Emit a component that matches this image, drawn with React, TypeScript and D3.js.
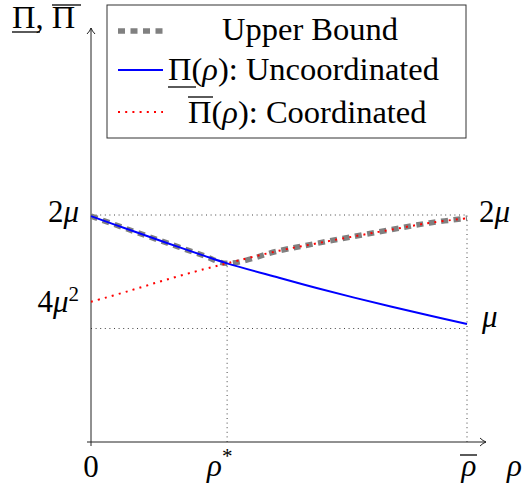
import React from 'react';
import * as d3 from 'd3';

// rho on [0, 1] where 1 = rho-bar; values in units of mu
const rhoGrid = [0, 0.1, 0.2, 0.3, 0.362, 0.5, 0.6, 0.7, 0.8, 0.9, 1.0];
const uncoordinated = [1.99, 1.872, 1.756, 1.642, 1.574, 1.447, 1.357, 1.272, 1.192, 1.115, 1.04];
const coordinated = [1.235, 1.33, 1.43, 1.522, 1.574, 1.685, 1.75, 1.812, 1.872, 1.93, 1.972];
const upperBound = [1.99, 1.872, 1.756, 1.642, 1.574, 1.685, 1.75, 1.812, 1.872, 1.93, 1.972];

const rhoStar = 0.362;
const rhoBar = 1;
const twoMu = 2;
const mu = 1;
const fourMuSq = 1.24;

const W = 525;
const H = 491;
const tf = { fontFamily: `'Liberation Serif', serif` };

const App = () => {
  const x = d3.scaleLinear().domain([0, 1]).range([91, 467]);
  const y = d3.scaleLinear().domain([0, 2]).range([442, 215]);

  const line = d3.line<number>()
    .x((_, i) => x(rhoGrid[i]))
    .y(d => y(d))
    .curve(d3.curveCatmullRom);

  const axisColor = '#222';
  const guide = { stroke: '#444', strokeWidth: 1, strokeDasharray: '1 3.6', fill: 'none' };
  const fs = 31;
  const lfs = 32.5;
  const deco = { stroke: '#000', strokeWidth: 1.3 };

  const xEnd = 486;
  const yTop = 28;

  return (
    <svg width={W} height={H} style={{ position: 'absolute', left: 0, top: 0, background: '#fff' }}>
      {/* guide lines */}
      <line x1={x(0)} x2={x(rhoBar)} y1={y(twoMu)} y2={y(twoMu)} {...guide} />
      <line x1={x(0)} x2={x(rhoBar)} y1={y(mu)} y2={y(mu)} {...guide} />
      <line x1={x(rhoStar)} x2={x(rhoStar)} y1={y(0)} y2={y(1.574)} {...guide} />
      <line x1={x(rhoBar)} x2={x(rhoBar)} y1={y(0)} y2={y(twoMu)} {...guide} />

      {/* axes */}
      <line x1={x(0) - 4} x2={xEnd} y1={y(0)} y2={y(0)} stroke={axisColor} strokeWidth={1} />
      <line x1={x(0)} x2={x(0)} y1={y(0) + 4} y2={yTop} stroke={axisColor} strokeWidth={1} />
      <path d={`M${xEnd - 6},${y(0) - 4} Q${xEnd - 3},${y(0) - 1} ${xEnd},${y(0)} Q${xEnd - 3},${y(0) + 1} ${xEnd - 6},${y(0) + 4}`}
        fill="none" stroke={axisColor} strokeWidth={1} />
      <path d={`M${x(0) - 4},${yTop + 6} Q${x(0) - 1},${yTop + 3} ${x(0)},${yTop} Q${x(0) + 1},${yTop + 3} ${x(0) + 4},${yTop + 6}`}
        fill="none" stroke={axisColor} strokeWidth={1} />

      {/* series */}
      <path d={line(upperBound) || ''} fill="none" stroke="#808080" strokeWidth={5.5} strokeDasharray="7 5.5" />
      <path d={line(uncoordinated) || ''} fill="none" stroke="#0000ff" strokeWidth={2} />
      <path d={line(coordinated) || ''} fill="none" stroke="#ff0000" strokeWidth={2} strokeDasharray="2 5.2" />

      {/* y tick labels */}
      <text x={79} y={222} textAnchor="end" fontSize={fs} style={tf}>2<tspan fontStyle="italic">μ</tspan></text>
      <text x={79} y={312} textAnchor="end" fontSize={fs} style={tf}>4<tspan fontStyle="italic">μ</tspan><tspan fontSize={21} dy={-11}>2</tspan></text>
      <text x={479} y={222} fontSize={fs} style={tf}>2<tspan fontStyle="italic">μ</tspan></text>
      <text x={482} y={327} fontSize={fs} fontStyle="italic" style={tf}>μ</text>

      {/* x tick labels */}
      <text x={x(0)} y={477} textAnchor="middle" fontSize={fs} style={tf}>0</text>
      <text x={207} y={476} fontSize={fs} style={tf}><tspan fontStyle="italic">ρ</tspan><tspan fontSize={21} dy={-13}>*</tspan></text>
      <text x={x(rhoBar) + 2} y={476} textAnchor="middle" fontSize={fs} fontStyle="italic" style={tf}>ρ</text>
      <line x1={460} x2={477} y1={455} y2={455} {...deco} />
      <text x={507} y={476} fontSize={fs} fontStyle="italic" style={tf}>ρ</text>

      {/* y axis label */}
      <text x={12} y={28} fontSize={lfs} style={tf}>Π, Π</text>
      <line x1={12} x2={40} y1={32} y2={32} {...deco} />
      <line x1={52} x2={81} y1={5} y2={5} {...deco} />

      {/* legend */}
      <rect x={107} y={5} width={359} height={133} fill="#fff" stroke="#333" strokeWidth={1} />
      <line x1={118} x2={163} y1={31} y2={31} stroke="#808080" strokeWidth={5.5} strokeDasharray="7 5.5" />
      <line x1={118} x2={163} y1={70} y2={70} stroke="#0000ff" strokeWidth={2} />
      <line x1={118} x2={163} y1={112} y2={112} stroke="#ff0000" strokeWidth={2} strokeDasharray="2 5.2" />
      <text x={310} y={40} textAnchor="middle" fontSize={lfs} style={tf}>Upper Bound</text>
      <text x={168} y={80} fontSize={lfs} style={tf}>
        Π(<tspan fontStyle="italic">ρ</tspan>): Uncoordinated
      </text>
      <line x1={168} x2={196} y1={87} y2={87} {...deco} />
      <text x={188} y={123} fontSize={lfs} style={tf}>
        Π(<tspan fontStyle="italic">ρ</tspan>): Coordinated
      </text>
      <line x1={188} x2={213} y1={97} y2={97} {...deco} />
    </svg>
  );
};

export default App;
